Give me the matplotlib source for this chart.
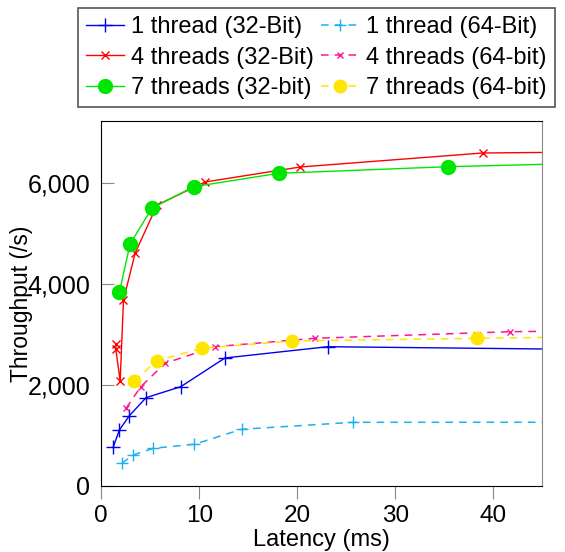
import matplotlib
matplotlib.use("Agg")
import matplotlib.pyplot as plt
from matplotlib.ticker import FuncFormatter

plt.rcParams['font.family'] = ['Liberation Sans', 'DejaVu Sans']

# latency (ms) / throughput (/s)
# last point of each series lies past the x limit, only the line shows
lat_1t_32 = [1.25, 1.86, 2.88, 4.58, 8.12, 12.63, 23.1, 50]
thr_1t_32 = [778, 1109, 1392, 1749, 1966, 2535, 2758, 2703]

lat_1t_64 = [2.11, 3.29, 5.33, 9.5, 14.33, 25.7, 50]
thr_1t_64 = [450, 614, 747, 826, 1123, 1261, 1262]

lat_4t_32 = [1.5, 1.5, 1.94, 2.28, 3.47, 5.71, 10.6, 20.3, 38.9, 50]
thr_4t_32 = [2810, 2707, 2079, 3683, 4614, 5564, 6020, 6317, 6594, 6614]

lat_4t_64 = [2.55, 4.04, 6.52, 11.6, 21.8, 41.7, 50]
thr_4t_64 = [1539, 1966, 2430, 2758, 2925, 3055, 3074]

lat_7t_32 = [1.86, 2.95, 5.17, 9.44, 18.1, 35.4, 50]
thr_7t_32 = [3836, 4792, 5499, 5927, 6192, 6323, 6393]

lat_7t_64 = [3.39, 5.67, 10.26, 19.5, 38.3, 50]
thr_7t_64 = [2079, 2481, 2727, 2871, 2925, 2955]

labels = ['1 thread (32-Bit)', '1 thread (64-Bit)',
          '4 threads (32-Bit)', '4 threads (64-bit)',
          '7 threads (32-bit)', '7 threads (64-bit)']

fig = plt.figure(figsize=(5.65, 5.52), dpi=100)
ax = fig.add_axes([0.179, 0.1196, 0.781, 0.6614])

dash = (0, (5, 4))
ax.plot(lat_1t_32, thr_1t_32, color='#0000ee', marker='+', ms=10, mew=1, lw=1, label=labels[0])
ax.plot(lat_1t_64, thr_1t_64, color='#1cb2ec', marker='+', ms=9, mew=1, lw=1.1, ls=dash, label=labels[1])
ax.plot(lat_4t_32, thr_4t_32, color='#ff0000', marker='x', ms=6, mew=1, lw=1, label=labels[2])
ax.plot(lat_4t_64, thr_4t_64, color='#ff1493', marker='x', ms=5, mew=1, lw=1.1, ls=dash, label=labels[3])
ax.plot(lat_7t_32, thr_7t_32, color='#00e600', marker='o', ms=10, lw=1, label=labels[4])
ax.plot(lat_7t_64, thr_7t_64, color='#ffe600', marker='o', ms=9, lw=1.1, ls=dash, label=labels[5])

ax.set_xlim(0, 45)
ax.set_ylim(0, 7230)
ax.set_xticks([0, 10, 20, 30, 40])
ax.set_yticks([0, 2000, 4000, 6000])
ax.yaxis.set_major_formatter(FuncFormatter(lambda v, p: '{:,.0f}'.format(v)))

ax.tick_params(axis='x', direction='out', length=9, color='#888888', labelsize=17.5, pad=5)
ax.tick_params(axis='y', direction='in', length=9, color='#888888', labelsize=18, pad=8)
ax.spines['right'].set_color('#888888')

ax.set_xlabel('Latency (ms)', fontsize=17, labelpad=1)
ax.set_ylabel('Throughput (/s)', fontsize=16.5)
ax.yaxis.set_label_coords(-0.155, 0.5)

# legend above the plot, order by rows
h, l = ax.get_legend_handles_labels()
order = [0, 2, 4, 1, 3, 5]
leg = fig.legend([h[i] for i in order], [l[i] for i in order], ncol=2,
                 loc='lower left', bbox_to_anchor=(0.138, 0.806, 0.844, 0.189),
                 mode='expand', fontsize=17, fancybox=False, framealpha=1,
                 edgecolor='#555555', borderpad=0.35, handlelength=1.6,
                 handletextpad=0.3, columnspacing=0.6, labelspacing=0.35,
                 borderaxespad=0)
leg.get_frame().set_linewidth(1.2)

fig.savefig('out.png', dpi=100)
